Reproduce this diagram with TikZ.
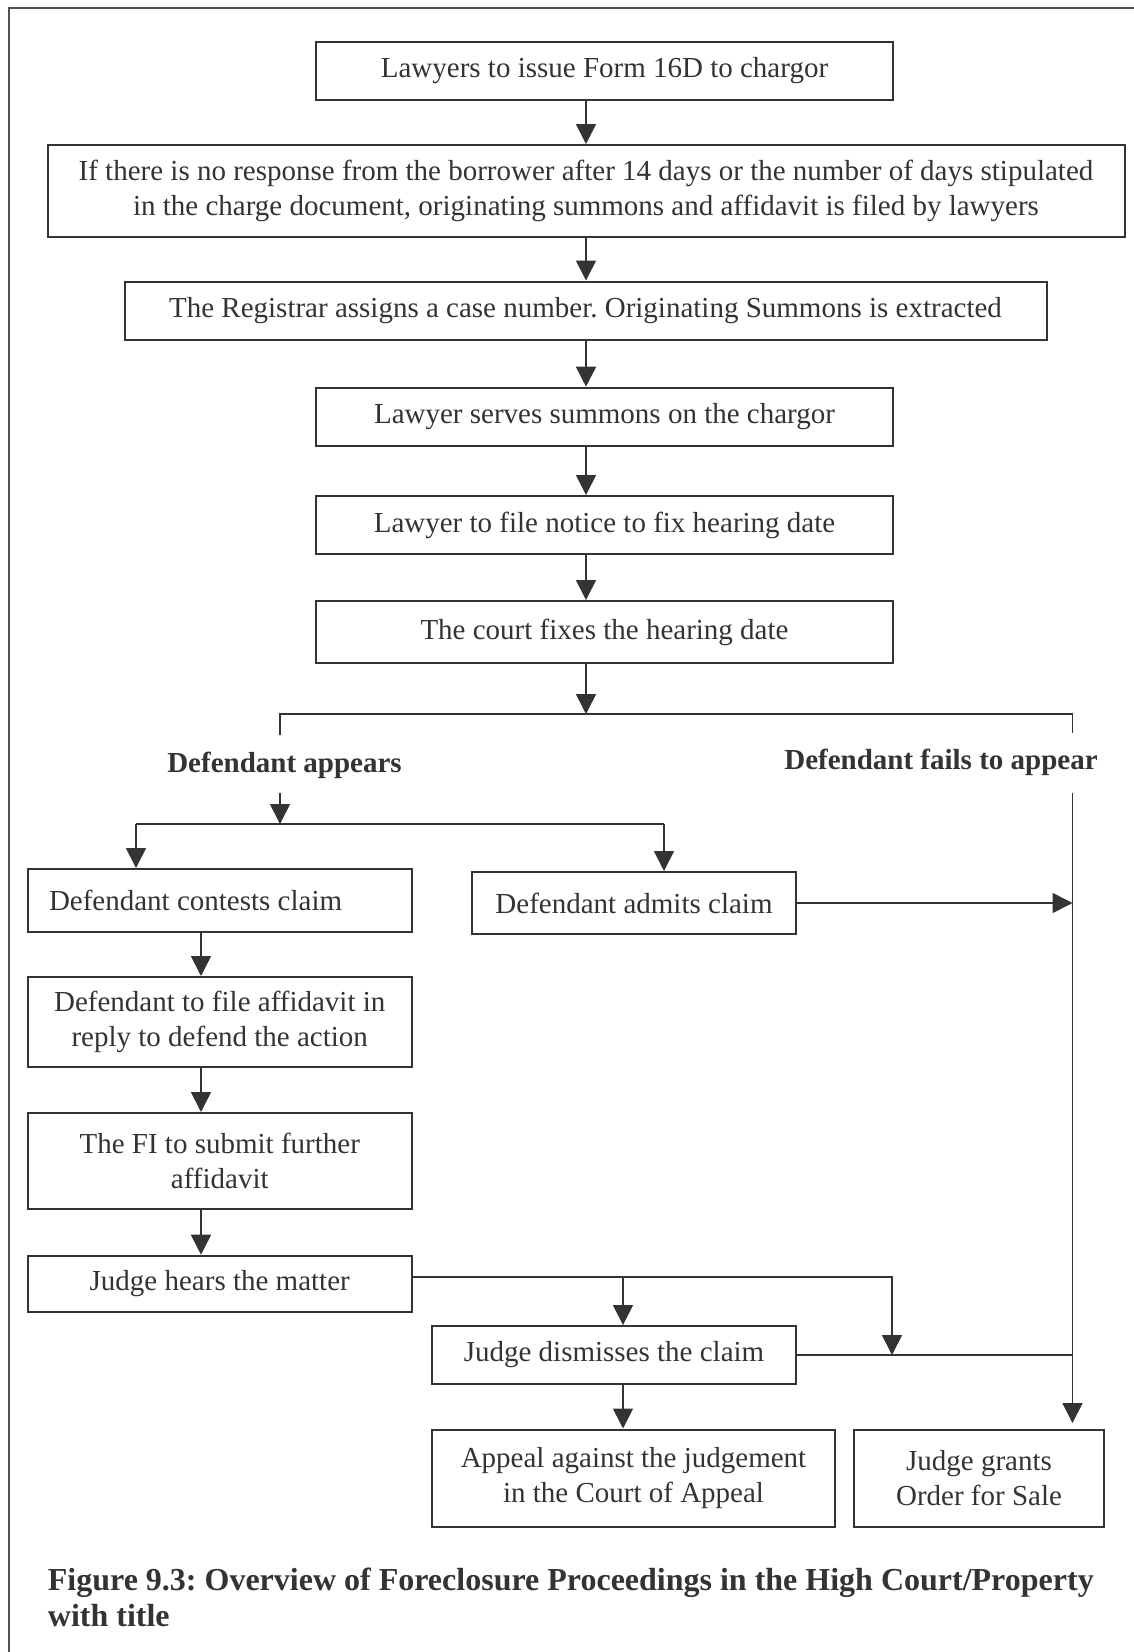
\documentclass[tikz,border=0pt]{standalone}
\usepackage{fontspec}
\setmainfont{Liberation Serif}
\usetikzlibrary{arrows.meta}
\definecolor{ink}{HTML}{333333}
\frenchspacing
\begin{document}
\begin{tikzpicture}[x=1pt,y=-1pt,
  every node/.style={font=\fontsize{29}{34.5}\selectfont, text=ink},
  box/.style={draw=ink, line width=2pt, inner sep=0pt, align=center},
  lbl/.style={font=\fontsize{29}{34.5}\selectfont\bfseries, inner sep=0pt},
  link/.style={draw=ink, line width=1.6pt},
  arr/.style={link, -{Triangle[length=20pt,width=20pt]}},
]
\useasboundingbox (0,0) rectangle (1134,1652);

% page frame (top and left edges)
\draw[draw=ink!85, line width=2pt] (8.7,1652) -- (8.7,8.3) -- (1134,8.3);

% main sequence
\node[box, minimum width=577pt, minimum height=58pt] (b1) at (604.5,71) {Lawyers to issue Form 16D to chargor};
\node[box, minimum width=1077pt, minimum height=92pt] (b2) at (586,191) {If there is no response from the borrower after 14 days or the number of days stipulated\\in the charge document, originating summons and affidavit is filed by lawyers};
\node[box, minimum width=922pt, minimum height=58pt] (b3) at (585.5,310.5) {The Registrar assigns a case number. Originating Summons is extracted};
\node[box, minimum width=577pt, minimum height=58pt] (b4) at (604.5,416.7) {Lawyer serves summons on the chargor};
\node[box, minimum width=577pt, minimum height=58pt] (b5) at (604.5,525) {Lawyer to file notice to fix hearing date};
\node[box, minimum width=577pt, minimum height=62pt] (b6) at (604.5,632) {The court fixes the hearing date};

\coordinate (spine) at (586,0);
\draw[arr] (b1.south -| spine) -- (b2.north -| spine);
\draw[arr] (b2.south -| spine) -- (b3.north -| spine);
\draw[arr] (b3.south -| spine) -- (b4.north -| spine);
\draw[arr] (b4.south -| spine) -- (b5.north -| spine);
\draw[arr] (b5.south -| spine) -- (b6.north -| spine);

% fork into the two outcomes
\coordinate (fork) at (586,714);
\coordinate (appL) at (280,735);
\coordinate (failR) at (1072.5,733);
\draw[link] (appL) -- (appL |- fork) -- (failR |- fork) -- (failR);
\draw[arr] (b6.south -| spine) -- (fork);

\node[lbl] (appears) at (284.5,765) {Defendant appears};
\node[lbl] (fails) at (941,762) {Defendant fails to appear};

% defendant appears branch
\node[box, text width=341.5pt, inner xsep=21.5pt, inner ysep=0pt, align=flush left, minimum height=63pt] (c1) at (219.75,900.5) {Defendant contests claim};
\node[box, minimum width=324pt, minimum height=62pt] (c2) at (634,903) {Defendant admits claim};
\node[box, minimum width=384.5pt, minimum height=90pt] (c3) at (219.75,1022) {Defendant to file affidavit in\\reply to defend the action};
\node[box, minimum width=384.5pt, minimum height=96pt] (c4) at (219.75,1161) {The FI to submit further\\affidavit};
\node[box, minimum width=384.5pt, minimum height=56pt] (c5) at (219.75,1283.7) {Judge hears the matter};
\node[box, minimum width=364pt, minimum height=58pt] (d1) at (614,1355) {Judge dismisses the claim};
\node[box, minimum width=403pt, minimum height=97pt] (e1) at (633.5,1478) {Appeal against the judgement\\in the Court of Appeal};
\node[box, minimum width=250pt, minimum height=97pt] (e2) at (979,1478) {Judge grants\\Order for Sale};

\coordinate (appB) at (280,793);
\coordinate (split) at (280,824);
\coordinate (splitL) at (136,824);
\coordinate (splitR) at (664,824);
\draw[arr] (appB) -- (split);
\draw[link] (splitL) -- (splitR);
\draw[arr] (splitL) -- (splitL |- c1.north);
\draw[arr] (splitR) -- (splitR |- c2.north);

\coordinate (trunk) at (201,0);
\draw[arr] (c1.south -| trunk) -- (c3.north -| trunk);
\draw[arr] (c3.south -| trunk) -- (c4.north -| trunk);
\draw[arr] (c4.south -| trunk) -- (c5.north -| trunk);

% defendant fails to appear line down to the order for sale
\coordinate (failB) at (1072.5,793);
\coordinate (failEnd) at (1072.5,1423);
\draw[arr] (failB) -- (failEnd);
\draw[arr] (c2.east) -- (c2.east -| failB);

% outcomes of the hearing
\coordinate (hearR) at ([yshift=7pt]c5.east);
\coordinate (hearJ) at (623,1276.7);
\coordinate (hearK) at (892,1276.7);
\draw[arr] (hearR) -- (hearK) -- (hearK |- d1.east);
\draw[arr] (hearJ) -- (hearJ |- d1.north);
\draw[link] (d1.east) -- (d1.east -| failB);
\draw[arr] (d1.south -| hearJ) -- (e1.north -| hearJ);

% caption
\node[lbl, font=\fontsize{32}{35.5}\selectfont\bfseries, anchor=north west, align=left] (caption) at (47.7,1568) {Figure 9.3: Overview of Foreclosure Proceedings in the High Court/Property\\with title};
\end{tikzpicture}
\end{document}
